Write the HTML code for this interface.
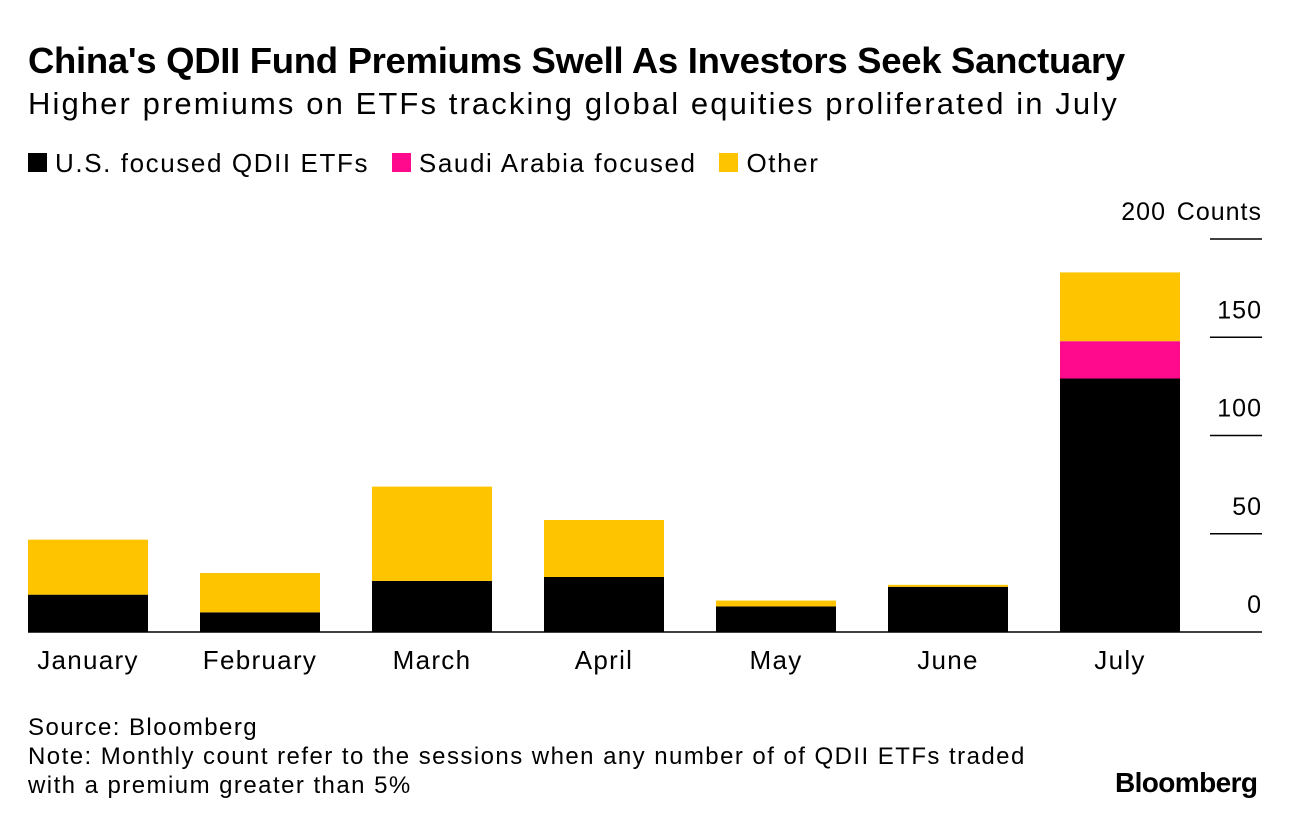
<!DOCTYPE html>
<html><head><meta charset="utf-8"><style>
body{margin:0;background:#fff;font-family:"Liberation Sans",sans-serif;}
#wrap{position:relative;width:1296px;height:828px;overflow:hidden;}
.t{position:absolute;white-space:nowrap;color:#000;}
</style></head><body>
<div id="wrap">
<div class="t" style="left:28px;top:40px;font-size:36.5px;font-weight:bold;letter-spacing:-0.3px">China's QDII Fund Premiums Swell As Investors Seek Sanctuary</div>
<div class="t" style="left:28px;top:86px;font-size:31px;letter-spacing:2.1px">Higher premiums on ETFs tracking global equities proliferated in July</div>
<div class="t" style="left:28px;top:148px;font-size:26px;letter-spacing:1.6px">
<span><span style="display:inline-block;width:19px;height:19px;background:#000;margin-right:8px"></span>U.S. focused QDII ETFs</span>
<span style="margin-left:14px"><span style="display:inline-block;width:19px;height:19px;background:#ff0a8c;margin-right:8px"></span>Saudi Arabia focused</span>
<span style="margin-left:14px"><span style="display:inline-block;width:19px;height:19px;background:#ffc400;margin-right:8px"></span>Other</span>
</div>
<svg id="chart" width="1296" height="828" style="position:absolute;left:0;top:0"></svg>
<div class="t" style="left:28px;top:713px;font-size:24px;line-height:29px;letter-spacing:1.45px">Source: Bloomberg<br>Note: Monthly count refer to the sessions when any number of of QDII ETFs traded<br>with a premium greater than 5%</div>
<div class="t" style="left:1115px;top:767px;font-size:28px;font-weight:bold;letter-spacing:-0.6px">Bloomberg</div>
</div>
<script>
const categories=["January","February","March","April","May","June","July"];
const usVals=[19,10,26,28,13,23,129];
const saudiVals=[0,0,0,0,0,0,19];
const otherVals=[28,20,48,29,3,1,35];
const ticks=[0,50,100,150,200];
const NS="http://www.w3.org/2000/svg";
const svg=document.getElementById('chart');
const y0=632,pxPer=(632-239)/200;
const y=v=>y0-v*pxPer;
const x=i=>28+i*172;
const bw=120;
function el(tag,attrs){const e=document.createElementNS(NS,tag);for(const k in attrs)e.setAttribute(k,attrs[k]);svg.appendChild(e);return e;}
ticks.forEach(t=>{
  if(t>0){const l=el('line',{x1:1210,x2:1262,y1:y(t),y2:y(t),stroke:'#000','stroke-width':1.5});
  
  }
  const tx=el('text',{x:t===200?1166:1262,y:y(t)-19,'text-anchor':'end','font-size':25,'letter-spacing':1,'font-family':'Liberation Sans, sans-serif'});
  tx.textContent=String(t);
  
  
});
const cu=el('text',{x:1262,y:y(200)-19,'text-anchor':'end','font-size':25,'letter-spacing':1,'font-family':'Liberation Sans, sans-serif'});
cu.textContent='Counts';


categories.forEach((c,i)=>{
  const segs=[[usVals[i],'#000','us'],[saudiVals[i],'#ff0a8c','saudi'],[otherVals[i],'#ffc400','other']];
  let base=0;
  segs.forEach(([v,col,n])=>{
    if(v>0){const r=el('rect',{x:x(i),y:y(base+v),width:bw,height:v*pxPer,fill:col});
    
    }
    base+=v;
  });
  const t=el('text',{x:x(i)+bw/2,y:669,'text-anchor':'middle','font-size':26,'letter-spacing':1.3,'font-family':'Liberation Sans, sans-serif'});
  t.textContent=c;
  
  
});
const ax=el('line',{x1:28,x2:1262,y1:y0,y2:y0,stroke:'#000','stroke-width':1.5});


</script>
</body></html>
